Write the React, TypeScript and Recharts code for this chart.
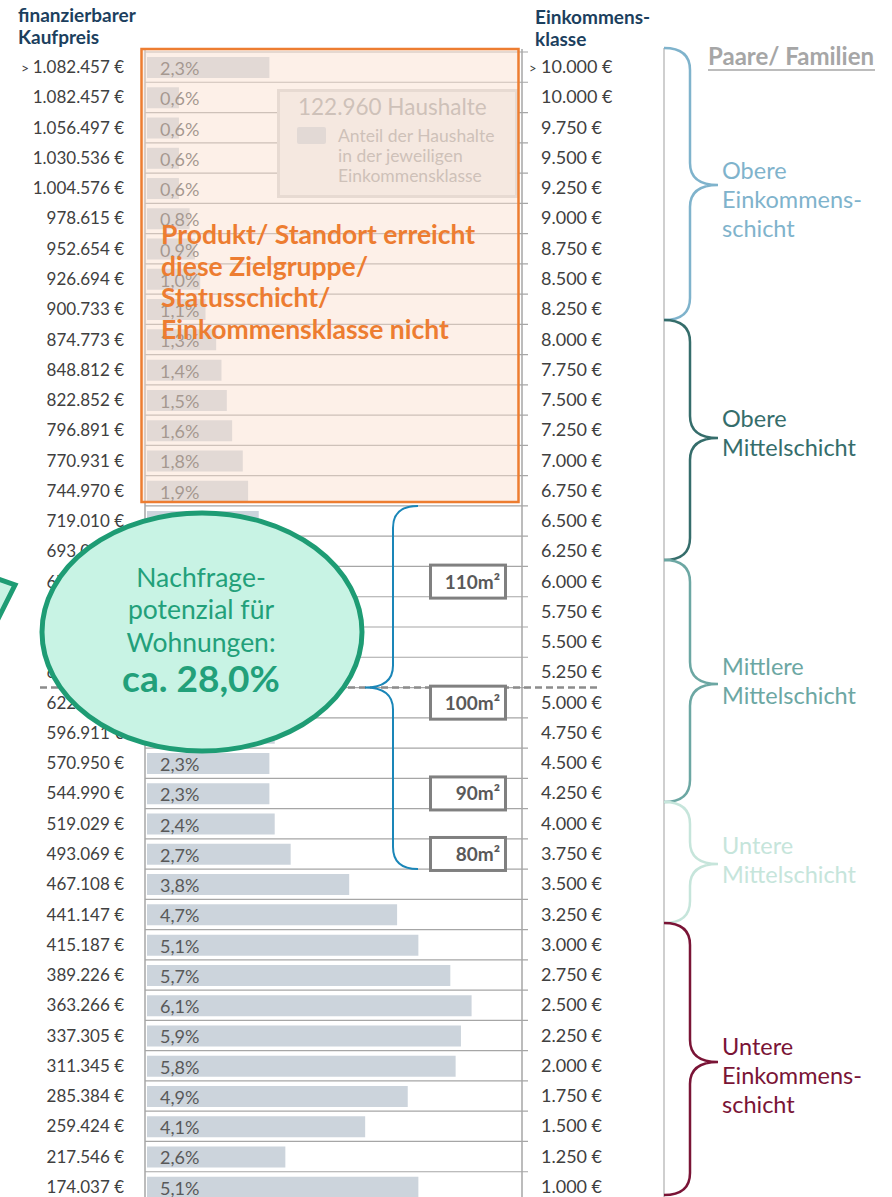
import React from 'react';
import { BarChart, Bar, XAxis, YAxis, CartesianGrid, LabelList } from 'recharts';

// financeable purchase price per row (left axis)
const prices = [
  '> 1.082.457 €', '1.082.457 €', '1.056.497 €', '1.030.536 €', '1.004.576 €', '978.615 €',
  '952.654 €', '926.694 €', '900.733 €', '874.773 €', '848.812 €', '822.852 €', '796.891 €',
  '770.931 €', '744.970 €', '719.010 €', '693.050 €', '679.014 €', '664.978 €', '650.943 €',
  '636.907 €', '622.872 €', '596.911 €', '570.950 €', '544.990 €', '519.029 €', '493.069 €',
  '467.108 €', '441.147 €', '415.187 €', '389.226 €', '363.266 €', '337.305 €', '311.345 €',
  '285.384 €', '259.424 €', '217.546 €', '174.037 €',
];

// income class per row (right axis)
const incomes = [
  '> 10.000 €', '10.000 €', '9.750 €', '9.500 €', '9.250 €', '9.000 €', '8.750 €', '8.500 €',
  '8.250 €', '8.000 €', '7.750 €', '7.500 €', '7.250 €', '7.000 €', '6.750 €', '6.500 €',
  '6.250 €', '6.000 €', '5.750 €', '5.500 €', '5.250 €', '5.000 €', '4.750 €', '4.500 €',
  '4.250 €', '4.000 €', '3.750 €', '3.500 €', '3.250 €', '3.000 €', '2.750 €', '2.500 €',
  '2.250 €', '2.000 €', '1.750 €', '1.500 €', '1.250 €', '1.000 €',
];

// share of households in %
const shares = [
  2.3, 0.6, 0.6, 0.6, 0.6, 0.8, 0.9, 1.0, 1.1, 1.3, 1.4, 1.5, 1.6, 1.8, 1.9, 2.1, 2.2, 2.2, 2.3,
  2.3, 2.4, 2.4, 2.4, 2.3, 2.3, 2.4, 2.7, 3.8, 4.7, 5.1, 5.7, 6.1, 5.9, 5.8, 4.9, 4.1, 2.6, 5.1,
];

const flatSizes = [
  { income: '6.000 €', label: '110m²' },
  { income: '5.000 €', label: '100m²' },
  { income: '4.250 €', label: '90m²' },
  { income: '3.750 €', label: '80m²' },
];

const groups = [
  { lines: ['Obere', 'Einkommens-', 'schicht'], color: '#7fb3cc', y0: 48, y1: 320, tip: 185, base: 179 },
  { lines: ['Obere', 'Mittelschicht'], color: '#356d6b', y0: 320, y1: 560, tip: 438, base: 427 },
  { lines: ['Mittlere', 'Mittelschicht'], color: '#6ca7a3', y0: 560, y1: 802, tip: 684, base: 675 },
  { lines: ['Untere', 'Mittelschicht'], color: '#c6e5db', y0: 802, y1: 923, tip: 864, base: 854 },
  { lines: ['Untere', 'Einkommens-', 'schicht'], color: '#7a1436', y0: 923, y1: 1195, tip: 1062, base: 1055 },
];

const rows = prices.map((p, i) => ({ price: p, income: incomes[i], share: shares[i] }));

const W = 892;
const H = 1197;
const CH = 1210;
const TOP = 52;
const BOT = 8;
const ROW_H = (CH - TOP - BOT) / rows.length;
const rowTop = (i: number) => TOP + i * ROW_H;
const rowMid = (i: number) => TOP + (i + 0.5) * ROW_H;

const FONT = 'Lato, "Open Sans", sans-serif';

const LeftTick = (props: any) => {
  const { y, payload } = props;
  const v: string = payload.value;
  const gt = v.startsWith('> ');
  return (
    <text x={124} y={y + 6} textAnchor="end" fontSize={17} fill="#404040" fontFamily={FONT}>
      {gt && <tspan fontSize={14}>{'> '}</tspan>}
      {gt ? v.slice(2) : v}
    </text>
  );
};

const RightTick = (props: any) => {
  const { y, payload } = props;
  const v: string = payload.value;
  const gt = v.startsWith('> ');
  return (
    <g>
      {gt && (
        <text x={529} y={y + 6} fontSize={13} fill="#404040" fontFamily={FONT}>
          {'>'}
        </text>
      )}
      <text x={541} y={y + 6} fontSize={18} fill="#404040" fontFamily={FONT}>
        {gt ? v.slice(2) : v}
      </text>
    </g>
  );
};

const ShareLabel = (props: any) => {
  const { x, y, height, value } = props;
  return (
    <text x={x + 13} y={y + height / 2 + 7.5} fontSize={18} fill="#595959" fontFamily={FONT}>
      {Number(value).toFixed(1).replace('.', ',')}%
    </text>
  );
};

const brace = (x0: number, y0: number, y1: number, tip: number, xm: number, xt: number, r: number) =>
  `M ${x0} ${y0} Q ${xm} ${y0} ${xm} ${y0 + r} L ${xm} ${tip - r} Q ${xm} ${tip} ${xt} ${tip} ` +
  `Q ${xm} ${tip} ${xm} ${tip + r} L ${xm} ${y1 - r} Q ${xm} ${y1} ${x0} ${y1}`;

export default function App() {
  const idx = (inc: string) => incomes.indexOf(inc);
  const blueTop = rowTop(idx('6.500 €'));
  const blueMid = rowTop(idx('5.000 €'));
  const blueBot = rowTop(idx('3.750 €') + 1);

  return (
    <div style={{ position: 'fixed', left: 0, top: 0, width: W, height: H, overflow: 'hidden', background: '#fff', fontFamily: FONT }}>
      <div style={{ position: 'absolute', left: 0, top: 0 }}>
        <BarChart width={W} height={CH} data={rows} layout="vertical" margin={{ top: TOP, right: 0, bottom: BOT, left: 0 }} barCategoryGap={0}>
          <CartesianGrid
            yAxisId="left"
            vertical={false}
            stroke="#a6a6a6"
            strokeWidth={1.2}
            horizontalCoordinatesGenerator={({ offset }: any) =>
              Array.from({ length: rows.length + 1 }, (_, i) => offset.top + (i * offset.height) / rows.length)
            }
          />
          <XAxis type="number" domain={[0, 7.16]} hide padding={{ left: 2, right: 0 }} />
          <YAxis yAxisId="left" type="category" dataKey="price" width={145} axisLine={false} tickLine={false} interval={0} tick={(p: any) => <LeftTick {...p} />} />
          <YAxis yAxisId="right" orientation="right" type="category" dataKey="income" width={364} axisLine={false} tickLine={false} interval={0} tick={(p: any) => <RightTick {...p} />} />
          <Bar yAxisId="left" dataKey="share" fill="#ccd4dc" barSize={21} isAnimationActive={false}>
            <LabelList dataKey="share" content={(p: any) => <ShareLabel {...p} />} />
          </Bar>
        </BarChart>
      </div>

      <svg width={W} height={CH} style={{ position: 'absolute', left: 0, top: 0 }} fontFamily={FONT}>
        {/* table frame */}
        <line x1={145} y1={49} x2={145} y2={CH} stroke="#a6a6a6" strokeWidth={1.5} />
        <line x1={522} y1={49} x2={522} y2={CH} stroke="#a6a6a6" strokeWidth={1.5} />

        {/* headers */}
        <text x={18} y={22} fontSize={19} fontWeight={700} fill="#1c3f5e">finanzierbarer</text>
        <text x={18} y={44} fontSize={19} fontWeight={700} fill="#1c3f5e">Kaufpreis</text>
        <text x={535} y={24} fontSize={19} fontWeight={700} fill="#1c3f5e">Einkommens-</text>
        <text x={535} y={46} fontSize={19} fontWeight={700} fill="#1c3f5e">klasse</text>

        {/* legend box */}
        <rect x={278.5} y={90.5} width={238} height={106} fill="#f0f0f0" stroke="#d6d6d6" strokeWidth={3} />
        <text x={298} y={115} fontSize={22.5} fill="#a6a6a6">122.960  Haushalte</text>
        <rect x={297} y={127} width={29} height={17} rx={2} fill="#ccd4dc" />
        <text x={338} y={142} fontSize={17.5} fill="#a6a6a6">Anteil der Haushalte</text>
        <text x={338} y={162} fontSize={17.5} fill="#a6a6a6">in der jeweiligen</text>
        <text x={338} y={182} fontSize={17.5} fill="#a6a6a6">Einkommensklasse</text>

        {/* not-reached overlay */}
        <rect x={141.5} y={49} width={377} height={453} fill="rgba(251,223,206,0.47)" stroke="#ed7d31" strokeWidth={2.5} />
        {['Produkt/ Standort erreicht', 'diese Zielgruppe/', 'Statusschicht/', 'Einkommensklasse nicht'].map((t, i) => (
          <text key={t} x={161} y={244 + i * 31.7} fontSize={26.5} fontWeight={700} fill="#ed7d31">{t}</text>
        ))}

        {/* threshold line */}
        <line x1={40} y1={blueMid} x2={600} y2={blueMid} stroke="#8c8c8c" strokeWidth={2.5} strokeDasharray="7 4" />

        {/* blue brace */}
        <path
          d={`M 418 ${blueTop} Q 393 ${blueTop} 393 ${blueTop + 22} L 393 ${blueMid - 22} Q 393 ${blueMid} 365 ${blueMid} Q 393 ${blueMid} 393 ${blueMid + 22} L 393 ${blueBot - 22} Q 393 ${blueBot} 418 ${blueBot}`}
          fill="none"
          stroke="#1a86b8"
          strokeWidth={2}
        />

        {/* flat sizes */}
        {flatSizes.map((f) => {
          const cy = rowMid(idx(f.income));
          return (
            <g key={f.label}>
              <rect x={430.5} y={cy - 16.5} width={75} height={33} fill="#fff" stroke="#808080" strokeWidth={3} />
              <text x={500} y={cy + 7} textAnchor="end" fontSize={19} fontWeight={700} fill="#595959">{f.label}</text>
            </g>
          );
        })}

        {/* demand ellipse */}
        <path d="M -40 565 L 15 585 L -10 635 Z" fill="#c8f3e4" stroke="#1e9c74" strokeWidth={5} strokeLinejoin="miter" />
        <ellipse cx={202} cy={632} rx={160} ry={119} fill="#c8f3e4" stroke="#1e9c74" strokeWidth={5} />
        <text x={201} y={587} textAnchor="middle" fontSize={26.5} fill="#22a07a">Nachfrage-</text>
        <text x={201} y={619} textAnchor="middle" fontSize={26.5} fill="#22a07a">potenzial für</text>
        <text x={201} y={652} textAnchor="middle" fontSize={26.5} fill="#22a07a">Wohnungen:</text>
        <text x={201} y={692} textAnchor="middle" fontSize={37} fontWeight={700} fill="#22a07a">ca. 28,0%</text>

        {/* right-side classes */}
        <line x1={664} y1={48} x2={664} y2={H} stroke="#bfbfbf" strokeWidth={1.5} />
        <text x={708} y={65} fontSize={24} fontWeight={700} fill="#a6a6a6">Paare/ Familien</text>
        <line x1={708} y1={70} x2={875} y2={70} stroke="#a6a6a6" strokeWidth={1.5} />
        {groups.map((g) => (
          <g key={g.lines.join('') + g.y0}>
            <path d={brace(664, g.y0, g.y1, g.tip, 690, 718, 22)} fill="none" stroke={g.color} strokeWidth={2.5} />
            {g.lines.map((l, i) => (
              <text key={l} x={722} y={g.base + i * 29} fontSize={23.5} fill={g.color}>
                {l}
              </text>
            ))}
          </g>
        ))}
      </svg>
    </div>
  );
}
